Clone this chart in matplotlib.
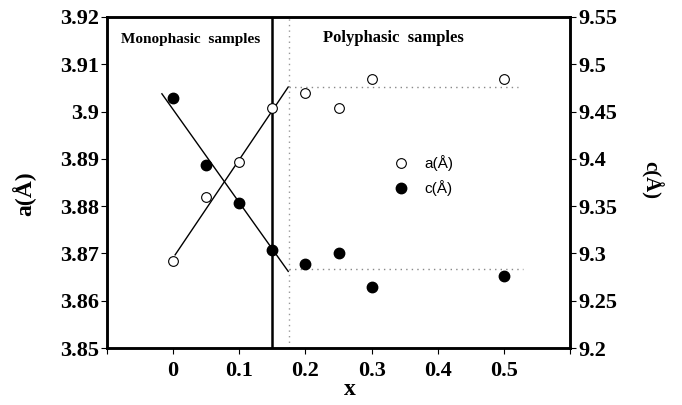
import matplotlib.pyplot as plt
import numpy as np

# data
x = [0, 0.05, 0.1, 0.15, 0.2, 0.25, 0.3, 0.5]
a_vals = [3.8684, 3.8819, 3.8893, 3.9007, 3.9039, 3.9007, 3.9069, 3.9069]
c_vals = [9.4646, 9.394, 9.353, 9.304, 9.2885, 9.300, 9.265, 9.276]

# trend lines (end points)
a_fit_x = [0.003, 0.174]
a_fit_y = [3.8697, 3.9052]
c_fit_x = [-0.017, 0.174]
c_fit_y = [9.4688, 9.281]

boundary_x = 0.15
dotted_x = 0.175
a_plateau = 3.9052
c_plateau = 3.8667  # in a-axis units
plateau_end = [0.521, 0.529]

xticks = [-0.1, 0, 0.1, 0.2, 0.3, 0.4, 0.5, 0.6]
xtick_labels = ['', '0', '0.1', '0.2', '0.3', '0.4', '0.5', '']
a_ticks = [3.85, 3.86, 3.87, 3.88, 3.89, 3.9, 3.91, 3.92]
a_tick_labels = ['3.85', '3.86', '3.87', '3.88', '3.89', '3.9', '3.91', '3.92']
c_ticks = [9.2, 9.25, 9.3, 9.35, 9.4, 9.45, 9.5, 9.55]
c_tick_labels = ['9.2', '9.25', '9.3', '9.35', '9.4', '9.45', '9.5', '9.55']

serif = 'Liberation Serif'

fig = plt.figure(figsize=(6.82, 4.05), dpi=100)
ax = fig.add_axes([107/682, 1 - 348/405, (570 - 107)/682, (348 - 17)/405])
ax2 = ax.twinx()

ax.set_xlim(-0.1, 0.6)
ax.set_ylim(3.85, 3.92)
ax2.set_ylim(9.2, 9.55)

ax.plot(a_fit_x, a_fit_y, color='black', lw=1)
ax2.plot(c_fit_x, c_fit_y, color='black', lw=1)

ax.axvline(boundary_x, color='black', lw=1.8)
ax.axvline(dotted_x, color='#999999', lw=1, ls=(0, (1, 3)))
ax.plot([dotted_x, plateau_end[0]], [a_plateau, a_plateau], color='#888888', lw=1, ls=(0, (1, 3)))
ax.plot([dotted_x, plateau_end[1]], [c_plateau, c_plateau], color='#888888', lw=1, ls=(0, (1, 3)))

ax.plot(x, a_vals, 'o', mfc='white', mec='black', mew=0.8, ms=7, ls='none', zorder=3)
ax2.plot(x, c_vals, 'o', mfc='black', mec='black', ms=7.5, ls='none', zorder=3)

ax.set_xticks(xticks)
ax.set_xticklabels(xtick_labels, fontfamily=serif, fontweight='bold', fontsize=16)
ax.set_yticks(a_ticks)
ax.set_yticklabels(a_tick_labels, fontfamily=serif, fontweight='bold', fontsize=16)
ax2.set_yticks(c_ticks)
ax2.set_yticklabels(c_tick_labels, fontfamily=serif, fontweight='bold', fontsize=16)

for a in (ax, ax2):
    a.tick_params(direction='out', length=4, width=0.8, pad=2)
    for s in a.spines.values():
        s.set_linewidth(1.8)
ax.tick_params(axis='x', pad=5)

ax.set_xlabel('x', fontfamily=serif, fontweight='bold', fontsize=17)
ax.xaxis.set_label_coords(0.525, -0.094)
ax.set_ylabel('a(Å)', fontfamily=serif, fontweight='bold', fontsize=17)
ax.yaxis.set_label_coords(-0.153, 0.465)
ax2.set_ylabel('c(Å)', fontfamily=serif, fontweight='bold', fontsize=15, rotation=270)
ax2.yaxis.set_label_coords(1.2, 0.508)

ax.text(0.027, 3.9153, 'Monophasic  samples', fontfamily=serif, fontweight='bold', fontsize=11,
        ha='center', va='center')
ax.text(0.333, 3.9156, 'Polyphasic  samples', fontfamily=serif, fontweight='bold', fontsize=12,
        ha='center', va='center')

# legend drawn by hand
ax.plot([0.345], [3.8891], 'o', mfc='white', mec='black', mew=0.8, ms=7)
ax.plot([0.345], [3.8838], 'o', mfc='black', mec='black', ms=7.5)
ax.text(0.38, 3.8891, 'a(Å)', fontfamily='Liberation Sans', fontsize=11, va='center')
ax.text(0.38, 3.8838, 'c(Å)', fontfamily='Liberation Sans', fontsize=11, va='center')

fig.savefig('out.png', dpi=100)
